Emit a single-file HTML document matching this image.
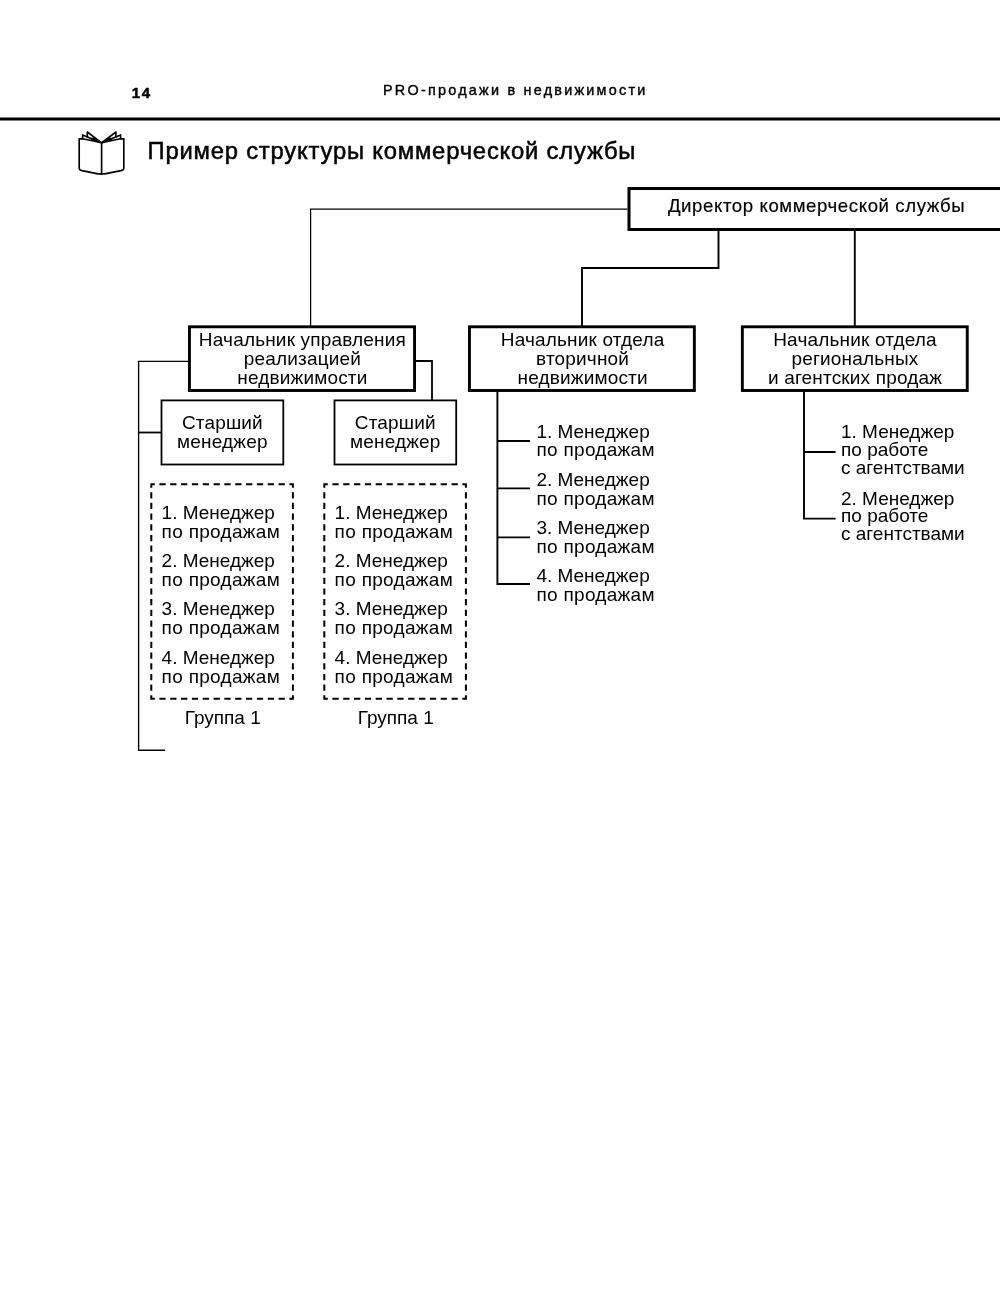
<!DOCTYPE html>
<html lang="ru">
<head>
<meta charset="utf-8">
<title>PRO-продажи в недвижимости — 14</title>
<style>
html,body{margin:0;padding:0;background:#fff;}
body{width:1000px;height:1316px;overflow:hidden;position:relative;}
svg{position:absolute;left:0;top:0;display:block;will-change:transform;}
text{font-family:"Liberation Sans",sans-serif;fill:#000;}
.bx{font-size:19px;letter-spacing:0.17px;}
.it{font-size:19px;letter-spacing:0px;}
.pp{letter-spacing:0.3px;}
.ln{stroke:#000;fill:none;}
</style>
</head>
<body>
<svg width="1000" height="1316" viewBox="0 0 1000 1316">
  <!-- header -->
  <text x="131.8" y="98" font-size="15" font-weight="bold" stroke="#000" stroke-width="0.5" letter-spacing="1.5">14</text>
  <text x="383" y="94.5" font-size="14.4" stroke="#000" stroke-width="0.4" letter-spacing="2.24">PRO-продажи в недвижимости</text>
  <rect x="0" y="117.5" width="1000" height="3" fill="#000"/>

  <!-- book icon -->
  <g class="ln" stroke-width="1.65" stroke-linejoin="round" stroke-linecap="round">
    <path d="M79.2 138.8 V168.3 Q79.4 170 82 170.6 L98 173.9 H104.8 L121 170.6 Q123.6 170 123.8 168.3 V138.8 H120.4 L101.6 142.8 L82.8 138.8 Z"/>
    <path d="M101.6 142.8 V173.9"/>
    <path d="M82.6 138.6 V134.9 L101.6 142.8"/>
    <path d="M87.3 137.2 V132 L101.6 142.8"/>
    <path d="M120.6 138.6 V134.9 L101.6 142.8"/>
    <path d="M115.9 137.2 V132 L101.6 142.8"/>
    <path d="M93.5 137.6 L101.6 142.8 L91.5 140 Z M109.7 137.6 L101.6 142.8 L111.7 140 Z" fill="#000" stroke-width="0.8"/>
  </g>

  <!-- title -->
  <text x="147.5" y="158.6" font-size="23.8" stroke="#000" stroke-width="0.5" letter-spacing="0.8">Пример структуры коммерческой службы</text>

  <!-- director box -->
  <rect x="629" y="188.5" width="400" height="41" class="ln" stroke-width="3"/>
  <text x="667.9" y="212" font-size="18.6" stroke="#000" stroke-width="0.2" letter-spacing="0.6">Директор коммерческой службы</text>

  <!-- connectors from director -->
  <path class="ln" stroke-width="1.25" d="M627.5 209 H310.6 V326"/>
  <path class="ln" stroke-width="1.9" d="M718.5 231 V268 H582 V326"/>
  <path class="ln" stroke-width="1.9" d="M854.8 231 V326"/>

  <!-- level 2 boxes -->
  <rect x="189.45" y="326.8" width="225.1" height="63.7" class="ln" stroke-width="2.9"/>
  <text class="bx" text-anchor="middle" x="302.4" y="346">Начальник управления</text>
  <text class="bx" text-anchor="middle" x="302.4" y="364.8">реализацией</text>
  <text class="bx" text-anchor="middle" x="302.4" y="383.5">недвижимости</text>

  <rect x="469.45" y="326.8" width="224.9" height="63.7" class="ln" stroke-width="2.9"/>
  <text class="bx" text-anchor="middle" x="582.6" y="346">Начальник отдела</text>
  <text class="bx" text-anchor="middle" x="582.6" y="364.8">вторичной</text>
  <text class="bx" text-anchor="middle" x="582.6" y="383.5">недвижимости</text>

  <rect x="742.35" y="326.8" width="224.9" height="63.7" class="ln" stroke-width="2.9"/>
  <text class="bx" text-anchor="middle" x="855" y="346">Начальник отдела</text>
  <text class="bx" text-anchor="middle" x="855" y="364.8">региональных</text>
  <text class="bx" text-anchor="middle" x="855" y="383.5">и агентских продаж</text>

  <!-- left branch connectors -->
  <path class="ln" stroke-width="1.35" d="M188 361.4 H138.6 V750.2 H165"/>
  <path class="ln" stroke-width="1.8" d="M138.5 432.5 H161"/>
  <path class="ln" stroke-width="1.8" d="M415.5 361 H432 V400"/>

  <!-- senior manager boxes -->
  <rect x="161.5" y="400.4" width="121.8" height="64.1" class="ln" stroke-width="1.8"/>
  <text class="bx" text-anchor="middle" x="222.4" y="428.5">Старший</text>
  <text class="bx" text-anchor="middle" x="222.4" y="447.5">менеджер</text>

  <rect x="334.5" y="400.4" width="121.7" height="64.1" class="ln" stroke-width="1.8"/>
  <text class="bx" text-anchor="middle" x="395.3" y="428.5">Старший</text>
  <text class="bx" text-anchor="middle" x="395.3" y="447.5">менеджер</text>

  <!-- dashed groups -->
  <path class="ln" stroke-width="2" d="M150.30 484.20H154.80M150.30 698.80H154.80M159.38 484.20H165.63M159.38 698.80H165.63M170.22 484.20H176.47M170.22 698.80H176.47M181.05 484.20H187.30M181.05 698.80H187.30M191.89 484.20H198.14M191.89 698.80H198.14M202.72 484.20H208.97M202.72 698.80H208.97M213.56 484.20H219.81M213.56 698.80H219.81M224.39 484.20H230.64M224.39 698.80H230.64M235.23 484.20H241.48M235.23 698.80H241.48M246.06 484.20H252.31M246.06 698.80H252.31M256.90 484.20H263.15M256.90 698.80H263.15M267.73 484.20H273.98M267.73 698.80H273.98M278.57 484.20H284.82M278.57 698.80H284.82M289.40 484.20H293.90M289.40 698.80H293.90M151.30 483.20V487.70M292.90 483.20V487.70M151.30 492.14V498.39M292.90 492.14V498.39M151.30 502.83V509.08M292.90 502.83V509.08M151.30 513.53V519.78M292.90 513.53V519.78M151.30 524.22V530.47M292.90 524.22V530.47M151.30 534.91V541.16M292.90 534.91V541.16M151.30 545.61V551.86M292.90 545.61V551.86M151.30 556.30V562.55M292.90 556.30V562.55M151.30 566.99V573.24M292.90 566.99V573.24M151.30 577.68V583.93M292.90 577.68V583.93M151.30 588.38V594.62M292.90 588.38V594.62M151.30 599.07V605.32M292.90 599.07V605.32M151.30 609.76V616.01M292.90 609.76V616.01M151.30 620.45V626.70M292.90 620.45V626.70M151.30 631.14V637.39M292.90 631.14V637.39M151.30 641.84V648.09M292.90 641.84V648.09M151.30 652.53V658.78M292.90 652.53V658.78M151.30 663.22V669.47M292.90 663.22V669.47M151.30 673.91V680.16M292.90 673.91V680.16M151.30 684.61V690.86M292.90 684.61V690.86M151.30 695.30V699.80M292.90 695.30V699.80"/>
  <path class="ln" stroke-width="2" d="M323.30 484.20H327.80M323.30 698.80H327.80M332.38 484.20H338.63M332.38 698.80H338.63M343.22 484.20H349.47M343.22 698.80H349.47M354.05 484.20H360.30M354.05 698.80H360.30M364.89 484.20H371.14M364.89 698.80H371.14M375.72 484.20H381.97M375.72 698.80H381.97M386.56 484.20H392.81M386.56 698.80H392.81M397.39 484.20H403.64M397.39 698.80H403.64M408.23 484.20H414.48M408.23 698.80H414.48M419.06 484.20H425.31M419.06 698.80H425.31M429.90 484.20H436.15M429.90 698.80H436.15M440.73 484.20H446.98M440.73 698.80H446.98M451.57 484.20H457.82M451.57 698.80H457.82M462.40 484.20H466.90M462.40 698.80H466.90M324.30 483.20V487.70M465.90 483.20V487.70M324.30 492.14V498.39M465.90 492.14V498.39M324.30 502.83V509.08M465.90 502.83V509.08M324.30 513.53V519.78M465.90 513.53V519.78M324.30 524.22V530.47M465.90 524.22V530.47M324.30 534.91V541.16M465.90 534.91V541.16M324.30 545.61V551.86M465.90 545.61V551.86M324.30 556.30V562.55M465.90 556.30V562.55M324.30 566.99V573.24M465.90 566.99V573.24M324.30 577.68V583.93M465.90 577.68V583.93M324.30 588.38V594.62M465.90 588.38V594.62M324.30 599.07V605.32M465.90 599.07V605.32M324.30 609.76V616.01M465.90 609.76V616.01M324.30 620.45V626.70M465.90 620.45V626.70M324.30 631.14V637.39M465.90 631.14V637.39M324.30 641.84V648.09M465.90 641.84V648.09M324.30 652.53V658.78M465.90 652.53V658.78M324.30 663.22V669.47M465.90 663.22V669.47M324.30 673.91V680.16M465.90 673.91V680.16M324.30 684.61V690.86M465.90 684.61V690.86M324.30 695.30V699.80M465.90 695.30V699.80"/>

  <g class="it">
    <text x="161.6" y="518.8">1. Менеджер</text><text x="161.6" y="537.6" class="pp">по продажам</text>
    <text x="161.6" y="566.8">2. Менеджер</text><text x="161.6" y="585.6" class="pp">по продажам</text>
    <text x="161.6" y="615.2">3. Менеджер</text><text x="161.6" y="634" class="pp">по продажам</text>
    <text x="161.6" y="663.8">4. Менеджер</text><text x="161.6" y="682.6" class="pp">по продажам</text>

    <text x="334.6" y="518.8">1. Менеджер</text><text x="334.6" y="537.6" class="pp">по продажам</text>
    <text x="334.6" y="566.8">2. Менеджер</text><text x="334.6" y="585.6" class="pp">по продажам</text>
    <text x="334.6" y="615.2">3. Менеджер</text><text x="334.6" y="634" class="pp">по продажам</text>
    <text x="334.6" y="663.8">4. Менеджер</text><text x="334.6" y="682.6" class="pp">по продажам</text>
  </g>
  <text class="it" text-anchor="middle" x="222.7" y="723.7">Группа 1</text>
  <text class="it" text-anchor="middle" x="395.7" y="723.7">Группа 1</text>

  <!-- middle tree -->
  <path class="ln" stroke-width="1.9" d="M497.4 392 V584 H530 M497.4 441 H530 M497.4 488.4 H530 M497.4 537.4 H530"/>
  <g class="it">
    <text x="536.4" y="437.8">1. Менеджер</text><text x="536.4" y="455.8" class="pp">по продажам</text>
    <text x="536.4" y="486">2. Менеджер</text><text x="536.4" y="504.8" class="pp">по продажам</text>
    <text x="536.4" y="533.9">3. Менеджер</text><text x="536.4" y="552.7" class="pp">по продажам</text>
    <text x="536.4" y="581.7">4. Менеджер</text><text x="536.4" y="600.5" class="pp">по продажам</text>
  </g>

  <!-- right tree -->
  <path class="ln" stroke-width="1.9" d="M804 391.5 V518.6 H835.6 M804 452 H835.6"/>
  <g class="it">
    <text x="841" y="437.8">1. Менеджер</text><text x="841" y="455.6">по работе</text><text x="841" y="473.9">с агентствами</text>
    <text x="841" y="504.5">2. Менеджер</text><text x="841" y="522.3">по работе</text><text x="841" y="540.2">с агентствами</text>
  </g>
</svg>
</body>
</html>
